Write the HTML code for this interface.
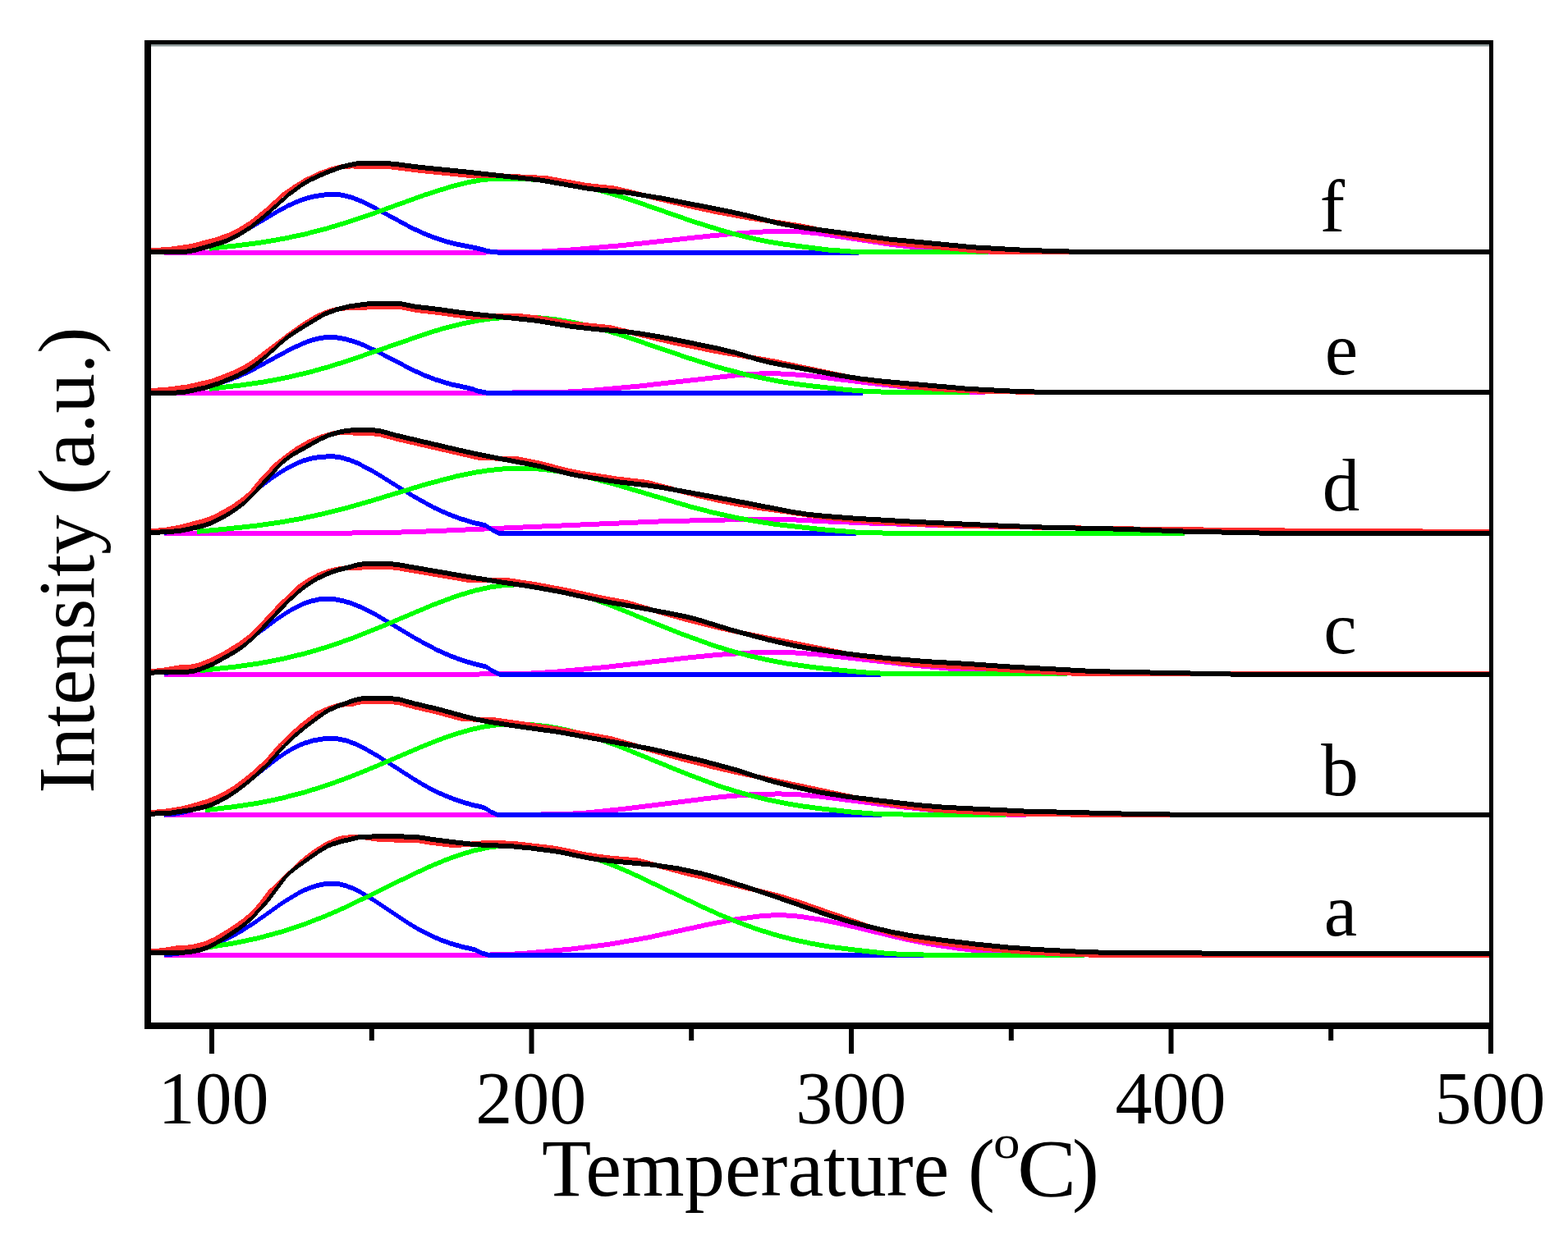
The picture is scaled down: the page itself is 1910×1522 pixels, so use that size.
<!DOCTYPE html>
<html><head><meta charset="utf-8"><title>TPD profiles</title>
<style>html,body{margin:0;padding:0;background:#fff;width:1910px;height:1522px;overflow:hidden}
svg{display:block} text{font-family:"Liberation Serif","Times New Roman",serif;fill:#000}</style>
</head><body>
<svg width="1910" height="1522" viewBox="0 0 1910 1522">
<rect width="1910" height="1522" fill="#fff"/>
<g shape-rendering="crispEdges">
<path fill="#ff00ff" d="M200.0,304.5 591.5,304.5 657.0,303.7 691.5,301.8 757.5,296.1 864.0,284.6 895.0,281.7 928.5,279.5 959.5,278.8 978.0,279.6 999.0,281.7 1083.0,294.5 1145.0,302.0 1175.5,304.0 1222.0,304.5 1222.0,310.5 1175.5,310.0 1145.0,308.0 1083.0,300.5 999.0,287.7 978.0,285.6 959.5,284.8 928.5,285.5 895.0,287.7 864.0,290.6 757.5,302.1 691.5,307.8 657.0,309.7 591.5,310.5 200.0,310.5Z"/>
<path fill="#0000ff" d="M200.0,304.4 216.0,303.9 228.0,302.4 250.5,297.2 265.0,292.9 279.0,287.5 293.0,280.8 307.0,273.1 341.5,252.7 352.0,247.2 361.5,242.9 373.0,238.7 384.0,236.0 395.5,234.4 408.0,233.9 415.0,234.5 422.5,236.0 430.5,238.4 439.5,242.0 455.5,249.8 501.0,274.4 515.5,281.2 529.5,286.7 542.0,290.9 554.5,294.3 585.0,300.4 594.0,303.0 601.0,304.1 606.0,304.5 1046.0,304.5 1046.0,310.5 606.0,310.5 601.0,310.1 594.0,309.0 585.0,306.4 554.5,300.3 542.0,296.9 529.5,292.7 515.5,287.2 501.0,280.4 455.5,255.8 439.5,248.0 430.5,244.4 422.5,242.0 415.0,240.5 408.0,239.9 395.5,240.4 384.0,242.0 373.0,244.7 361.5,248.9 352.0,253.2 341.5,258.7 307.0,279.1 293.0,286.8 279.0,293.5 265.0,298.9 250.5,303.2 228.0,308.4 216.0,309.9 200.0,310.4Z"/>
<path fill="#00ff00" d="M255.0,299.8 292.5,295.9 319.0,292.4 346.0,287.7 372.0,282.2 399.5,275.0 428.0,266.3 455.5,256.9 518.0,234.3 550.5,224.1 568.5,219.6 585.5,216.4 601.0,214.8 615.5,214.5 643.5,215.2 668.5,217.3 693.0,220.7 718.0,225.9 739.5,231.5 762.5,238.5 844.0,266.8 879.0,277.8 898.0,283.1 917.0,287.6 935.5,291.4 954.5,294.6 1008.0,301.4 1039.5,303.8 1078.0,304.4 1204.0,304.5 1204.0,310.5 1078.0,310.4 1039.5,309.8 1008.0,307.4 954.5,300.6 935.5,297.4 917.0,293.6 898.0,289.1 879.0,283.8 844.0,272.8 762.5,244.5 739.5,237.5 718.0,231.9 693.0,226.7 668.5,223.3 643.5,221.2 615.5,220.5 601.0,220.8 585.5,222.4 568.5,225.6 550.5,230.1 518.0,240.3 455.5,262.9 428.0,272.3 399.5,281.0 372.0,288.2 346.0,293.7 319.0,298.4 292.5,301.9 255.0,305.8Z"/>
<path fill="#ff2b2b" d="M179.5,302.6 207.5,300.7 232.5,297.2 262.0,289.4 277.5,284.1 291.0,277.4 305.0,268.6 323.5,253.6 344.5,234.5 358.5,224.8 371.0,217.2 387.0,209.4 404.0,203.2 415.5,200.3 428.5,199.4 439.0,199.9 459.5,199.6 477.0,200.5 511.5,204.8 577.5,211.5 606.0,211.1 665.5,214.1 714.5,222.9 749.5,226.7 835.5,247.1 870.0,254.7 910.5,262.2 975.5,272.4 1051.0,288.0 1087.5,293.0 1189.0,302.5 1202.0,303.4 1215.5,303.8 1286.5,304.4 1816.0,304.5 1816.0,310.5 1286.5,310.4 1215.5,309.8 1202.0,309.4 1189.0,308.5 1087.5,299.0 1051.0,294.0 975.5,278.4 910.5,268.2 870.0,260.7 835.5,253.1 749.5,232.7 714.5,228.9 665.5,220.1 606.0,217.1 577.5,217.5 511.5,210.8 477.0,206.5 459.5,205.6 439.0,205.9 428.5,205.4 415.5,206.3 404.0,209.2 387.0,215.4 371.0,223.2 358.5,230.8 344.5,240.5 323.5,259.6 305.0,274.6 291.0,283.4 277.5,290.1 262.0,295.4 232.5,303.2 207.5,306.7 179.5,308.6Z"/>
<path fill="#000" d="M179.5,304.5 214.0,304.3 230.0,303.4 238.0,301.7 259.5,295.8 276.0,290.4 290.5,283.4 305.5,273.9 323.0,259.7 352.5,233.5 366.5,223.1 378.0,216.2 396.5,207.7 411.0,202.2 420.5,199.2 435.5,196.2 453.5,195.5 466.0,195.8 481.0,196.9 510.0,200.7 575.5,207.3 659.0,216.6 714.5,226.4 729.5,228.4 763.5,231.7 808.0,238.9 889.5,255.0 910.5,259.7 946.5,268.7 976.0,274.1 1083.0,288.5 1185.5,298.3 1248.5,301.9 1331.5,304.4 1816.0,304.5 1816.0,310.5 1331.5,310.4 1248.5,307.9 1185.5,304.3 1083.0,294.5 976.0,280.1 946.5,274.7 910.5,265.7 889.5,261.0 808.0,244.9 763.5,237.7 729.5,234.4 714.5,232.4 659.0,222.6 575.5,213.3 510.0,206.7 481.0,202.9 466.0,201.8 453.5,201.5 435.5,202.2 420.5,205.2 411.0,208.2 396.5,213.7 378.0,222.2 366.5,229.1 352.5,239.5 323.0,265.7 305.5,279.9 290.5,289.4 276.0,296.4 259.5,301.8 238.0,307.7 230.0,309.4 214.0,310.3 179.5,310.5Z"/>
<path fill="#ff00ff" d="M200.0,475.5 623.5,475.5 686.5,474.8 720.0,472.9 777.0,467.7 895.5,454.4 919.0,452.7 939.0,452.1 960.5,452.8 985.5,454.8 1076.5,465.8 1143.5,472.6 1170.0,474.4 1200.0,475.2 1200.0,481.2 1170.0,480.4 1143.5,478.6 1076.5,471.8 985.5,460.8 960.5,458.8 939.0,458.1 919.0,458.7 895.5,460.4 777.0,473.7 720.0,478.9 686.5,480.8 623.5,481.5 200.0,481.5Z"/>
<path fill="#0000ff" d="M200.0,475.2 215.5,474.3 230.0,472.2 257.0,466.5 275.5,461.2 290.5,455.6 305.5,448.8 351.5,423.8 368.0,415.9 377.0,412.4 385.5,410.0 393.5,408.5 401.5,408.0 410.5,408.5 420.0,410.0 429.5,412.6 440.0,416.3 458.0,424.6 504.0,448.5 517.5,454.5 530.0,459.4 549.0,465.2 575.0,470.9 583.0,473.8 592.0,475.5 1051.0,475.5 1051.0,481.5 592.0,481.5 583.0,479.8 575.0,476.9 549.0,471.2 530.0,465.4 517.5,460.5 504.0,454.5 458.0,430.6 440.0,422.3 429.5,418.6 420.0,416.0 410.5,414.5 401.5,414.0 393.5,414.5 385.5,416.0 377.0,418.4 368.0,421.9 351.5,429.8 305.5,454.8 290.5,461.6 275.5,467.2 257.0,472.5 230.0,478.2 215.5,480.3 200.0,481.2Z"/>
<path fill="#00ff00" d="M255.0,470.8 292.5,466.6 320.0,462.7 348.0,457.4 375.5,450.9 399.5,444.3 424.5,436.4 521.5,402.9 542.5,396.6 561.5,391.8 580.5,387.9 598.5,385.3 616.5,383.8 634.5,383.4 655.0,384.1 675.5,386.1 696.5,389.5 718.5,394.4 737.5,399.5 758.0,405.8 837.5,432.9 873.5,444.2 912.5,454.4 951.0,462.1 971.5,465.2 994.0,468.0 1034.0,472.2 1057.5,474.0 1097.5,475.3 1181.0,475.5 1181.0,481.5 1097.5,481.3 1057.5,480.0 1034.0,478.2 994.0,474.0 971.5,471.2 951.0,468.1 912.5,460.4 873.5,450.2 837.5,438.9 758.0,411.8 737.5,405.5 718.5,400.4 696.5,395.5 675.5,392.1 655.0,390.1 634.5,389.4 616.5,389.8 598.5,391.3 580.5,393.9 561.5,397.8 542.5,402.6 521.5,408.9 424.5,442.4 399.5,450.3 375.5,456.9 348.0,463.4 320.0,468.7 292.5,472.6 255.0,476.8Z"/>
<path fill="#ff2b2b" d="M179.5,473.4 205.0,471.5 228.5,468.4 256.0,462.1 267.5,458.1 283.5,451.6 296.0,445.5 306.5,439.1 352.0,404.6 371.0,391.2 385.5,382.7 398.5,377.1 410.0,374.0 422.0,372.2 431.0,371.8 441.0,372.1 454.5,370.7 472.5,370.5 487.5,371.0 507.0,374.9 531.5,377.7 575.5,383.6 609.5,382.1 633.0,382.0 656.0,384.6 696.5,391.5 743.0,396.1 818.5,414.1 871.0,424.9 943.0,437.3 1039.5,457.6 1064.5,462.0 1088.5,465.5 1112.5,468.4 1137.5,470.7 1166.0,472.5 1197.0,473.8 1276.0,475.2 1816.0,475.5 1816.0,481.5 1276.0,481.2 1197.0,479.8 1166.0,478.5 1137.5,476.7 1112.5,474.4 1088.5,471.5 1064.5,468.0 1039.5,463.6 943.0,443.3 871.0,430.9 818.5,420.1 743.0,402.1 696.5,397.5 656.0,390.6 633.0,388.0 609.5,388.1 575.5,389.6 531.5,383.7 507.0,380.9 487.5,377.0 472.5,376.5 454.5,376.7 441.0,378.1 431.0,377.8 422.0,378.2 410.0,380.0 398.5,383.1 385.5,388.7 371.0,397.2 352.0,410.6 306.5,445.1 296.0,451.5 283.5,457.6 267.5,464.1 256.0,468.1 228.5,474.4 205.0,477.5 179.5,479.4Z"/>
<path fill="#000" d="M179.5,475.5 215.0,475.5 223.5,475.0 250.5,469.4 266.5,464.2 289.0,454.8 297.5,450.4 304.5,446.2 312.5,440.5 323.5,431.7 344.5,412.6 352.5,406.2 363.5,399.0 389.5,383.1 396.5,379.3 410.0,374.2 426.5,370.2 450.5,367.0 467.5,366.5 487.0,367.0 506.5,370.8 532.0,373.7 568.0,378.7 652.0,387.6 698.0,395.1 724.5,398.0 763.0,401.4 783.0,403.9 815.5,409.6 873.0,421.3 895.0,426.6 925.0,435.6 939.0,439.0 1022.0,454.5 1048.0,458.5 1073.5,461.5 1178.5,470.8 1239.0,474.0 1298.0,475.4 1816.0,475.5 1816.0,481.5 1298.0,481.4 1239.0,480.0 1178.5,476.8 1073.5,467.5 1048.0,464.5 1022.0,460.5 939.0,445.0 925.0,441.6 895.0,432.6 873.0,427.3 815.5,415.6 783.0,409.9 763.0,407.4 724.5,404.0 698.0,401.1 652.0,393.6 568.0,384.7 532.0,379.7 506.5,376.8 487.0,373.0 467.5,372.5 450.5,373.0 426.5,376.2 410.0,380.2 396.5,385.3 389.5,389.1 363.5,405.0 352.5,412.2 344.5,418.6 323.5,437.7 312.5,446.5 304.5,452.2 297.5,456.4 289.0,460.8 266.5,470.2 250.5,475.4 223.5,481.0 215.0,481.5 179.5,481.5Z"/>
<path fill="#ff00ff" d="M200.0,647.0 394.5,646.9 474.0,646.0 525.0,644.3 798.5,632.6 873.5,630.6 947.5,629.9 958.5,629.9 1001.5,632.2 1063.5,634.7 1183.0,638.1 1383.0,641.9 1582.0,644.7 1582.0,650.7 1383.0,647.9 1183.0,644.1 1063.5,640.7 1001.5,638.2 958.5,635.9 947.5,635.9 873.5,636.6 798.5,638.6 525.0,650.3 474.0,652.0 394.5,652.9 200.0,653.0Z"/>
<path fill="#0000ff" d="M200.0,646.1 213.5,643.8 237.5,637.6 251.0,632.8 264.5,626.5 276.0,619.9 288.5,611.6 326.0,583.4 338.0,574.9 349.5,567.7 360.0,562.3 370.5,558.1 381.0,555.3 392.0,553.7 404.0,553.2 411.0,553.8 419.0,555.4 427.5,558.1 436.5,561.9 455.0,571.6 503.5,601.7 528.5,615.5 544.0,622.6 559.5,628.6 575.5,633.6 592.0,637.5 600.0,643.1 608.0,647.0 1043.0,647.0 1043.0,653.0 608.0,653.0 600.0,649.1 592.0,643.5 575.5,639.6 559.5,634.6 544.0,628.6 528.5,621.5 503.5,607.7 455.0,577.6 436.5,567.9 427.5,564.1 419.0,561.4 411.0,559.8 404.0,559.2 392.0,559.7 381.0,561.3 370.5,564.1 360.0,568.3 349.5,573.7 338.0,580.9 326.0,589.4 288.5,617.6 276.0,625.9 264.5,632.5 251.0,638.8 237.5,643.6 213.5,649.8 200.0,652.1Z"/>
<path fill="#00ff00" d="M240.0,644.9 272.5,641.9 314.0,637.4 340.5,633.6 366.0,629.1 394.0,623.1 423.5,615.6 452.0,607.4 520.0,586.8 557.0,577.1 578.0,572.8 597.5,569.9 616.5,568.1 634.5,567.5 652.5,568.2 671.0,570.0 690.5,573.0 711.0,577.2 747.5,586.7 842.0,614.7 869.5,621.8 896.0,627.7 920.0,632.1 944.0,635.8 1001.0,642.2 1042.5,645.5 1085.0,646.8 1443.0,647.0 1443.0,653.0 1085.0,652.8 1042.5,651.5 1001.0,648.2 944.0,641.8 920.0,638.1 896.0,633.7 869.5,627.8 842.0,620.7 747.5,592.7 711.0,583.2 690.5,579.0 671.0,576.0 652.5,574.2 634.5,573.5 616.5,574.1 597.5,575.9 578.0,578.8 557.0,583.1 520.0,592.8 452.0,613.4 423.5,621.6 394.0,629.1 366.0,635.1 340.5,639.6 314.0,643.4 272.5,647.9 240.0,650.9Z"/>
<path fill="#ff2b2b" d="M179.5,644.9 201.5,642.7 220.0,639.4 250.0,631.3 257.0,628.7 264.5,625.2 283.0,614.7 298.0,603.8 304.5,597.8 315.5,584.4 333.5,565.1 348.0,553.4 360.5,544.5 375.5,535.9 390.5,529.7 407.0,525.0 413.5,524.1 420.5,523.8 435.5,524.9 454.0,525.3 462.5,526.2 484.5,532.1 583.5,554.9 631.0,556.4 660.5,562.3 690.0,570.1 706.0,573.4 752.0,580.6 788.0,584.8 851.5,601.3 877.5,607.2 902.5,612.1 927.0,616.3 958.5,620.6 987.0,625.2 1010.5,628.1 1036.0,630.6 1078.5,633.6 1129.0,636.1 1191.5,638.1 1272.5,639.8 1392.5,641.7 1547.0,643.4 1816.0,645.0 1816.0,651.0 1547.0,649.4 1392.5,647.7 1272.5,645.8 1191.5,644.1 1129.0,642.1 1078.5,639.6 1036.0,636.6 1010.5,634.1 987.0,631.2 958.5,626.6 927.0,622.3 902.5,618.1 877.5,613.2 851.5,607.3 788.0,590.8 752.0,586.6 706.0,579.4 690.0,576.1 660.5,568.3 631.0,562.4 583.5,560.9 484.5,538.1 462.5,532.2 454.0,531.3 435.5,530.9 420.5,529.8 413.5,530.1 407.0,531.0 390.5,535.7 375.5,541.9 360.5,550.5 348.0,559.4 334.0,570.8 320.0,586.1 305.5,603.2 298.0,609.8 283.0,620.7 264.5,631.2 257.0,634.7 250.0,637.3 220.0,645.4 201.5,648.7 179.5,650.9Z"/>
<path fill="#000" d="M179.5,646.0 205.0,645.2 223.0,643.3 247.5,637.7 255.0,635.2 262.5,631.9 272.5,626.7 282.5,620.8 291.0,614.9 299.0,608.6 305.0,603.0 321.0,584.8 338.5,566.0 348.0,557.1 357.0,550.7 390.5,531.9 401.0,527.2 411.0,524.2 420.5,522.2 429.5,521.2 440.5,520.8 455.5,521.3 464.0,522.4 483.5,527.8 566.5,547.2 595.0,553.2 656.0,564.8 690.0,573.6 704.0,576.6 751.0,584.0 787.0,588.2 803.0,590.5 886.5,605.6 966.0,621.0 983.5,623.7 1003.5,625.8 1041.0,628.7 1114.5,632.9 1220.5,637.7 1277.0,639.8 1370.0,641.8 1441.5,644.5 1552.5,646.9 1816.0,647.0 1816.0,653.0 1552.5,652.9 1441.5,650.5 1370.0,647.8 1277.0,645.8 1220.5,643.7 1114.5,638.9 1041.0,634.7 1003.5,631.8 983.5,629.7 966.0,627.0 886.5,611.6 803.0,596.5 787.0,594.2 751.0,590.0 704.0,582.6 690.0,579.6 656.0,570.8 595.0,559.2 566.5,553.2 483.5,533.8 464.0,528.4 455.5,527.3 440.5,526.8 429.5,527.2 420.5,528.2 411.0,530.2 401.0,533.2 390.5,537.9 357.0,556.7 349.0,562.3 341.5,569.1 310.5,603.5 299.0,614.6 291.0,620.9 282.5,626.8 272.5,632.7 262.5,637.9 255.0,641.2 247.5,643.7 223.0,649.3 205.0,651.2 179.5,652.0Z"/>
<path fill="#ff00ff" d="M200.0,818.5 583.5,818.5 643.5,817.7 675.5,815.8 736.5,810.1 839.0,798.4 872.5,795.0 910.0,792.6 947.0,791.8 971.5,792.6 1000.5,794.8 1117.0,808.1 1201.5,815.6 1243.0,817.8 1300.0,818.5 1300.0,824.5 1243.0,823.8 1201.5,821.6 1117.0,814.1 1000.5,800.8 971.5,798.6 947.0,797.8 910.0,798.6 872.5,801.0 839.0,804.4 736.5,816.1 675.5,821.8 643.5,823.7 583.5,824.5 200.0,824.5Z"/>
<path fill="#0000ff" d="M200.0,817.4 213.5,815.2 237.5,809.6 251.0,805.4 264.0,800.1 277.5,793.2 292.0,784.4 306.0,774.7 340.0,749.6 349.5,743.3 358.5,738.0 369.0,733.0 379.0,729.5 389.0,727.4 399.0,726.8 408.5,727.4 418.0,729.2 428.0,732.2 438.5,736.3 459.0,746.7 507.5,775.8 532.0,788.9 547.0,795.6 561.5,801.1 576.5,805.7 592.0,809.4 600.0,814.8 608.0,818.5 1073.0,818.5 1073.0,824.5 608.0,824.5 600.0,820.8 592.0,815.4 576.5,811.7 561.5,807.1 547.0,801.6 532.0,794.9 507.5,781.8 459.0,752.7 438.5,742.3 428.0,738.2 418.0,735.2 408.5,733.4 399.0,732.8 389.0,733.4 379.0,735.5 369.0,739.0 358.5,744.0 349.5,749.3 340.0,755.6 306.0,780.7 292.0,790.4 277.5,799.2 264.0,806.1 251.0,811.4 237.5,815.6 213.5,821.2 200.0,823.4Z"/>
<path fill="#00ff00" d="M244.0,814.1 285.5,809.7 315.0,805.5 344.5,799.9 373.5,792.8 402.0,784.3 432.0,773.7 461.0,762.1 526.5,734.5 544.5,727.6 560.5,722.0 579.5,716.4 597.0,712.5 614.0,710.1 629.5,709.3 647.5,710.1 665.5,712.3 684.5,716.0 704.0,721.1 722.0,726.8 742.0,734.0 827.0,768.3 868.0,783.2 891.0,790.3 914.0,796.5 937.0,801.6 960.5,805.9 988.0,809.8 1028.0,814.2 1053.0,816.4 1075.5,817.7 1125.0,818.4 1300.0,818.5 1300.0,824.5 1125.0,824.4 1075.5,823.7 1053.0,822.4 1028.0,820.2 988.0,815.8 960.5,811.9 937.0,807.6 914.0,802.5 891.0,796.3 868.0,789.2 827.0,774.3 742.0,740.0 722.0,732.8 704.0,727.1 684.5,722.0 665.5,718.3 647.5,716.1 629.5,715.3 614.0,716.1 597.0,718.5 579.5,722.4 560.5,728.0 544.5,733.6 526.5,740.5 461.0,768.1 432.0,779.7 402.0,790.3 373.5,798.8 344.5,805.9 315.0,811.5 285.5,815.7 244.0,820.1Z"/>
<path fill="#ff2b2b" d="M179.5,815.7 201.0,813.4 220.0,810.1 231.0,809.8 237.5,808.8 245.0,806.5 255.5,802.3 273.5,793.0 291.5,782.0 304.5,772.0 310.0,766.9 339.5,735.2 364.0,712.0 375.5,704.3 387.0,698.2 400.5,693.0 414.0,690.0 424.5,689.0 437.0,688.9 446.0,688.0 457.0,687.7 473.5,688.0 483.0,688.9 570.5,703.9 614.5,703.5 651.0,709.0 689.5,716.1 733.5,725.7 764.0,731.3 809.5,744.6 840.5,753.2 872.0,761.1 905.0,768.5 1035.5,794.3 1070.0,800.3 1101.5,805.0 1132.0,807.4 1183.0,810.2 1226.0,813.3 1311.0,817.8 1429.0,818.4 1816.0,818.5 1816.0,824.5 1429.0,824.4 1311.0,823.8 1226.0,819.3 1183.0,816.2 1132.0,813.4 1101.5,811.0 1070.0,806.3 1035.5,800.3 905.0,774.5 872.0,767.1 840.5,759.2 809.5,750.6 764.0,737.3 733.5,731.7 689.5,722.1 651.0,715.0 614.5,709.5 570.5,709.9 483.0,694.9 473.5,694.0 457.0,693.7 446.0,694.0 437.0,694.9 424.5,695.0 414.0,696.0 400.5,699.0 387.0,704.2 375.5,710.3 364.0,718.0 343.0,737.8 311.5,771.5 304.5,778.0 291.5,788.0 273.5,799.0 255.5,808.3 245.0,812.5 237.5,814.8 231.0,815.8 220.0,816.1 201.0,819.4 179.5,821.7Z"/>
<path fill="#000" d="M179.5,817.0 196.5,816.0 226.5,815.7 233.5,815.3 243.5,812.7 259.0,806.4 284.5,792.2 294.0,786.0 301.5,780.3 310.5,772.1 341.0,739.6 353.0,727.8 367.5,714.8 379.5,706.2 387.5,701.5 395.5,697.6 403.5,694.4 412.5,691.5 437.0,685.0 445.5,684.0 456.5,683.7 474.5,684.0 485.0,685.2 566.0,699.2 614.5,707.0 645.5,711.5 684.0,718.5 737.5,730.1 784.5,738.5 835.5,748.3 850.0,752.1 893.0,765.3 936.0,776.7 965.5,783.4 986.0,787.2 1013.5,791.2 1047.0,795.5 1080.5,799.1 1126.5,803.0 1183.0,806.2 1226.0,809.3 1322.5,814.5 1347.0,815.4 1499.0,818.5 1816.0,818.5 1816.0,824.5 1499.0,824.5 1347.0,821.4 1322.5,820.5 1226.0,815.3 1183.0,812.2 1126.5,809.0 1080.5,805.1 1047.0,801.5 1013.5,797.2 986.0,793.2 965.5,789.4 936.0,782.7 893.0,771.3 850.0,758.1 835.5,754.3 784.5,744.5 737.5,736.1 684.0,724.5 645.5,717.5 614.5,713.0 566.0,705.2 485.0,691.2 474.5,690.0 456.5,689.7 445.5,690.0 437.0,691.0 412.5,697.5 403.5,700.4 395.5,703.6 387.5,707.5 379.5,712.2 367.5,720.8 353.0,733.8 314.5,774.1 301.5,786.3 294.0,792.0 284.5,798.2 259.0,812.4 243.5,818.7 233.5,821.3 226.5,821.7 196.5,822.0 179.5,823.0Z"/>
<path fill="#ff00ff" d="M200.0,989.8 632.0,989.8 686.5,989.2 716.0,987.4 765.0,982.2 857.5,970.5 885.5,967.4 917.5,965.1 948.5,964.4 971.0,965.1 996.5,967.3 1095.0,979.9 1167.0,987.3 1201.0,989.2 1250.0,989.8 1250.0,995.8 1201.0,995.2 1167.0,993.3 1095.0,985.9 996.5,973.3 971.0,971.1 948.5,970.4 917.5,971.1 885.5,973.4 857.5,976.5 765.0,988.2 716.0,993.4 686.5,995.2 632.0,995.8 200.0,995.8Z"/>
<path fill="#0000ff" d="M200.0,989.6 213.0,988.7 224.5,986.5 246.5,980.5 261.5,974.7 275.0,967.8 288.5,959.2 302.0,949.4 337.0,921.9 347.5,914.6 357.5,908.7 369.0,903.3 380.5,899.6 392.5,897.5 405.5,896.9 413.5,897.6 422.5,899.7 432.0,903.2 442.0,907.8 460.0,918.1 508.0,948.8 522.0,956.8 535.5,963.5 548.5,969.1 562.0,973.9 575.5,977.9 590.0,981.2 598.0,986.3 606.0,989.8 1074.0,989.8 1074.0,995.8 606.0,995.8 598.0,992.3 590.0,987.2 575.5,983.9 562.0,979.9 548.5,975.1 535.5,969.5 522.0,962.8 508.0,954.8 460.0,924.1 442.0,913.8 432.0,909.2 422.5,905.7 413.5,903.6 405.5,902.9 392.5,903.5 380.5,905.6 369.0,909.3 357.5,914.7 347.5,920.6 337.0,927.9 302.0,955.4 288.5,965.2 275.0,973.8 261.5,980.7 246.5,986.5 224.5,992.5 213.0,994.7 200.0,995.6Z"/>
<path fill="#00ff00" d="M250.0,984.2 284.5,980.2 312.5,976.0 340.0,970.4 367.0,963.6 395.0,955.0 424.0,944.6 452.0,933.3 518.0,905.1 536.5,897.9 553.0,892.1 573.0,886.2 591.5,882.2 609.0,879.9 625.5,879.3 647.5,880.1 669.0,882.5 690.5,886.6 713.0,892.4 732.5,898.6 754.0,906.4 837.0,940.3 874.5,954.3 895.0,960.9 915.5,966.7 936.0,971.7 956.5,975.9 978.0,979.5 1001.5,982.6 1040.0,986.8 1064.5,988.6 1107.0,989.7 1225.0,989.8 1225.0,995.8 1107.0,995.7 1064.5,994.6 1040.0,992.8 1001.5,988.6 978.0,985.5 956.5,981.9 936.0,977.7 915.5,972.7 895.0,966.9 874.5,960.3 837.0,946.3 754.0,912.4 732.5,904.6 713.0,898.4 690.5,892.6 669.0,888.5 647.5,886.1 625.5,885.3 609.0,885.9 591.5,888.2 573.0,892.2 553.0,898.1 536.5,903.9 518.0,911.1 452.0,939.3 424.0,950.6 395.0,961.0 367.0,969.6 340.0,976.4 312.5,982.0 284.5,986.2 250.0,990.2Z"/>
<path fill="#ff2b2b" d="M179.5,987.5 203.5,985.4 223.0,982.1 232.5,979.7 252.5,973.7 265.0,968.6 275.5,963.1 284.5,957.5 295.5,949.5 307.0,940.2 324.0,924.6 339.0,907.0 353.5,892.9 366.5,881.5 384.5,867.4 399.0,860.9 407.0,858.1 413.0,856.5 421.0,855.2 429.5,854.8 435.5,853.1 440.5,852.3 460.0,851.5 476.5,852.1 486.5,853.4 505.5,858.5 534.5,865.3 563.5,873.3 600.0,873.9 678.0,885.2 745.0,897.3 832.0,922.3 868.0,931.4 897.0,938.1 1053.5,971.5 1093.0,978.2 1131.5,983.0 1153.0,984.9 1225.5,988.5 1276.0,989.4 1380.5,989.8 1816.0,989.8 1816.0,995.8 1380.5,995.8 1276.0,995.4 1225.5,994.5 1153.0,990.9 1131.5,989.0 1093.0,984.2 1053.5,977.5 897.0,944.1 868.0,937.4 832.0,928.3 745.0,903.3 678.0,891.2 600.0,879.9 563.5,879.3 534.5,871.3 505.5,864.5 486.5,859.4 476.5,858.1 460.0,857.5 440.5,858.3 435.5,859.1 429.5,860.8 421.0,861.2 413.0,862.5 407.0,864.1 399.0,866.9 384.5,873.4 366.5,887.5 353.5,898.9 344.5,907.5 325.0,929.8 307.0,946.2 295.5,955.5 284.5,963.5 275.5,969.1 265.0,974.6 252.5,979.7 232.5,985.7 223.0,988.1 203.5,991.4 179.5,993.5Z"/>
<path fill="#000" d="M179.5,988.8 205.5,988.0 234.0,983.7 252.0,979.6 259.0,977.0 267.0,973.3 277.0,967.9 285.0,962.8 295.5,955.2 306.5,946.3 324.5,929.8 343.5,908.5 355.5,896.7 372.5,882.4 394.0,866.4 401.0,862.2 409.5,858.2 433.0,849.8 442.0,848.2 460.0,847.5 477.0,848.2 487.0,849.5 505.5,854.5 535.0,861.5 573.5,872.0 591.5,875.9 620.5,880.6 681.5,889.2 794.5,909.9 855.5,924.1 898.5,935.7 929.5,945.8 944.0,950.0 967.5,955.8 995.0,961.8 1029.0,967.4 1117.0,978.0 1152.0,980.9 1247.5,985.5 1393.5,989.2 1454.5,989.8 1816.0,989.8 1816.0,995.8 1454.5,995.8 1393.5,995.2 1247.5,991.5 1152.0,986.9 1117.0,984.0 1029.0,973.4 995.0,967.8 967.5,961.8 944.0,956.0 929.5,951.8 898.5,941.7 855.5,930.1 794.5,915.9 681.5,895.2 620.5,886.6 591.5,881.9 573.5,878.0 535.0,867.5 505.5,860.5 487.0,855.5 477.0,854.2 460.0,853.5 442.0,854.2 433.0,855.8 409.5,864.2 401.0,868.2 394.0,872.4 372.5,888.4 355.5,902.7 348.5,909.5 328.5,931.8 317.0,943.0 306.5,952.3 295.5,961.2 285.0,968.8 277.0,973.9 267.0,979.3 259.0,983.0 252.0,985.6 234.0,989.7 205.5,994.0 179.5,994.8Z"/>
<path fill="#ff00ff" d="M200.0,1161.0 566.5,1160.9 606.0,1160.4 635.0,1159.2 699.0,1153.2 741.0,1147.9 787.5,1139.8 864.5,1123.2 892.5,1117.9 922.5,1113.7 936.0,1112.6 948.0,1112.2 960.5,1112.6 973.5,1113.7 1002.5,1118.1 1028.5,1123.6 1099.5,1140.7 1121.0,1145.2 1142.0,1148.9 1166.5,1152.5 1202.0,1156.7 1222.5,1158.8 1240.0,1160.0 1240.0,1166.0 1222.5,1164.8 1202.0,1162.7 1166.5,1158.5 1142.0,1154.9 1121.0,1151.2 1099.5,1146.7 1028.5,1129.6 1002.5,1124.1 973.5,1119.7 960.5,1118.6 948.0,1118.2 936.0,1118.6 922.5,1119.7 892.5,1123.9 864.5,1129.2 787.5,1145.8 741.0,1153.9 699.0,1159.2 635.0,1165.2 606.0,1166.4 566.5,1166.9 200.0,1167.0Z"/>
<path fill="#0000ff" d="M200.0,1160.5 216.5,1158.8 237.5,1154.3 254.0,1149.9 269.0,1144.4 283.5,1137.5 298.0,1129.1 312.5,1119.6 347.0,1095.2 365.5,1084.2 376.0,1079.4 386.0,1076.1 396.0,1074.1 406.0,1073.5 413.0,1074.2 421.0,1076.2 429.5,1079.4 438.5,1083.8 454.5,1093.3 499.5,1123.3 513.5,1131.4 526.5,1137.9 537.0,1142.4 548.0,1146.4 562.0,1150.5 578.0,1154.1 587.0,1158.4 596.0,1161.0 1181.0,1161.0 1181.0,1167.0 596.0,1167.0 587.0,1164.4 578.0,1160.1 562.0,1156.5 548.0,1152.4 537.0,1148.4 526.5,1143.9 513.5,1137.4 499.5,1129.3 454.5,1099.3 438.5,1089.8 429.5,1085.4 421.0,1082.2 413.0,1080.2 406.0,1079.5 396.0,1080.1 386.0,1082.1 376.0,1085.4 365.5,1090.2 347.0,1101.2 312.5,1125.6 298.0,1135.1 283.5,1143.5 269.0,1150.4 254.0,1155.9 237.5,1160.3 216.5,1164.8 200.0,1166.5Z"/>
<path fill="#00ff00" d="M255.0,1151.1 286.5,1146.1 316.5,1139.7 345.5,1131.7 374.0,1122.0 398.0,1112.6 424.0,1101.1 498.5,1064.6 521.0,1054.1 541.5,1045.4 560.0,1038.7 578.5,1033.2 596.0,1029.5 613.0,1027.4 629.5,1026.9 653.5,1028.0 676.5,1030.9 699.5,1035.8 723.5,1042.8 744.5,1050.5 767.5,1060.2 857.0,1102.8 878.0,1112.2 897.5,1120.2 920.0,1128.5 942.5,1135.7 965.0,1141.7 988.0,1146.7 1011.5,1150.8 1038.0,1154.2 1075.5,1158.4 1101.5,1160.1 1148.5,1160.9 1321.0,1161.0 1321.0,1167.0 1148.5,1166.9 1101.5,1166.1 1075.5,1164.4 1038.0,1160.2 1011.5,1156.8 988.0,1152.7 965.0,1147.7 942.5,1141.7 920.0,1134.5 897.5,1126.2 878.0,1118.2 857.0,1108.8 767.5,1066.2 744.5,1056.5 723.5,1048.8 699.5,1041.8 676.5,1036.9 653.5,1034.0 629.5,1032.9 613.0,1033.4 596.0,1035.5 578.5,1039.2 560.0,1044.7 541.5,1051.4 521.0,1060.1 498.5,1070.6 424.0,1107.1 398.0,1118.6 374.0,1128.0 345.5,1137.7 316.5,1145.7 286.5,1152.1 255.0,1157.1Z"/>
<path fill="#ff2b2b" d="M179.5,1157.0 198.5,1155.0 215.5,1152.2 226.5,1151.9 235.0,1150.7 249.5,1147.2 261.0,1141.8 272.5,1135.1 286.0,1126.4 295.0,1120.0 302.5,1113.8 308.0,1108.7 317.5,1097.5 328.5,1082.8 330.0,1082.3 361.5,1051.8 371.0,1043.6 380.0,1036.7 394.0,1027.6 408.0,1020.9 414.0,1019.0 420.0,1017.8 433.0,1016.8 446.5,1017.6 465.0,1020.4 506.5,1020.7 525.0,1023.8 553.0,1027.3 597.0,1023.6 627.0,1025.0 677.5,1030.9 712.5,1038.2 728.0,1040.7 746.0,1042.8 778.0,1045.6 837.0,1061.6 855.0,1065.5 875.0,1071.0 926.5,1083.0 950.0,1089.1 976.0,1097.2 1061.0,1126.9 1083.5,1133.9 1105.0,1139.8 1112.5,1141.6 1136.0,1145.1 1198.0,1152.6 1252.5,1157.4 1307.5,1160.4 1410.0,1161.0 1816.0,1161.0 1816.0,1167.0 1410.0,1167.0 1307.5,1166.4 1252.5,1163.4 1198.0,1158.6 1136.0,1151.1 1112.5,1147.6 1105.0,1145.8 1083.5,1139.9 1061.0,1132.9 976.0,1103.2 950.0,1095.1 926.5,1089.0 875.0,1077.0 855.0,1071.5 837.0,1067.6 778.0,1051.6 746.0,1048.8 728.0,1046.7 712.5,1044.2 677.5,1036.9 627.0,1031.0 597.0,1029.6 553.0,1033.3 525.0,1029.8 506.5,1026.7 465.0,1026.4 446.5,1023.6 433.0,1022.8 420.0,1023.8 414.0,1025.0 408.0,1026.9 394.0,1033.6 380.0,1042.7 370.0,1050.4 359.5,1059.6 330.0,1088.3 327.5,1092.6 318.0,1103.9 309.5,1113.4 302.5,1119.8 295.0,1126.0 286.0,1132.4 272.5,1141.1 261.0,1147.8 249.5,1153.2 235.0,1156.7 226.5,1157.9 215.5,1158.2 198.5,1161.0 179.5,1163.0Z"/>
<path fill="#000" d="M179.5,1158.0 221.5,1157.8 232.5,1156.8 243.5,1154.6 251.0,1152.3 258.0,1149.1 268.5,1143.2 292.0,1127.9 300.0,1121.7 307.5,1114.8 324.5,1095.7 343.5,1070.2 354.5,1059.1 363.0,1052.4 387.5,1035.1 394.0,1030.9 399.5,1027.9 406.0,1025.3 414.0,1022.8 436.5,1017.4 452.5,1016.5 484.0,1016.4 506.5,1016.7 528.0,1020.2 569.5,1025.2 588.5,1026.7 622.5,1028.2 647.5,1030.6 680.5,1034.9 712.0,1041.6 727.0,1044.1 745.0,1046.2 795.0,1050.8 826.0,1055.4 854.0,1061.3 877.5,1067.8 930.0,1084.7 1011.0,1112.9 1031.5,1119.2 1055.5,1125.5 1085.0,1132.5 1110.0,1137.2 1150.5,1143.0 1193.5,1148.1 1228.5,1151.5 1262.0,1154.0 1317.5,1156.9 1348.0,1157.8 1464.0,1158.5 1816.0,1158.5 1816.0,1164.5 1464.0,1164.5 1348.0,1163.8 1317.5,1162.9 1262.0,1160.0 1228.5,1157.5 1193.5,1154.1 1150.5,1149.0 1110.0,1143.2 1085.0,1138.5 1055.5,1131.5 1031.5,1125.2 1011.0,1118.9 930.0,1090.7 877.5,1073.8 854.0,1067.3 826.0,1061.4 795.0,1056.8 745.0,1052.2 727.0,1050.1 712.0,1047.6 680.5,1040.9 647.5,1036.6 622.5,1034.2 588.5,1032.7 569.5,1031.2 528.0,1026.2 506.5,1022.7 484.0,1022.4 452.5,1022.5 436.5,1023.4 414.0,1028.8 406.0,1031.3 399.5,1033.9 394.0,1036.9 387.5,1041.1 363.0,1058.4 354.5,1065.1 351.0,1068.4 347.0,1073.2 328.0,1098.8 310.0,1118.4 301.5,1126.4 293.5,1132.8 283.0,1140.1 268.5,1149.2 258.0,1155.1 251.0,1158.3 243.5,1160.6 232.5,1162.8 221.5,1163.8 179.5,1164.0Z"/>
</g>
<rect x="176" y="49" width="1643" height="5" fill="#000"/>
<rect x="183" y="54" width="1631" height="2.5" fill="#8a9696"/>
<rect x="176" y="49" width="8" height="1205" fill="#000"/>
<rect x="1814" y="49" width="5" height="1235" fill="#000"/>
<rect x="176" y="1246" width="1643" height="8" fill="#000"/>
<rect x="255.0" y="1250" width="6" height="34" fill="#000"/>
<rect x="644.5" y="1250" width="6" height="34" fill="#000"/>
<rect x="1034.0" y="1250" width="6" height="34" fill="#000"/>
<rect x="1423.5" y="1250" width="6" height="34" fill="#000"/>
<rect x="1813.0" y="1250" width="6" height="34" fill="#000"/>
<rect x="449.8" y="1250" width="6" height="18" fill="#000"/>
<rect x="839.2" y="1250" width="6" height="18" fill="#000"/>
<rect x="1228.8" y="1250" width="6" height="18" fill="#000"/>
<rect x="1618.2" y="1250" width="6" height="18" fill="#000"/>
<text x="259.9" y="1369" font-size="90" text-anchor="middle">100</text>
<text x="646.8" y="1369" font-size="90" text-anchor="middle">200</text>
<text x="1036.8" y="1369" font-size="90" text-anchor="middle">300</text>
<text x="1426.0" y="1369" font-size="90" text-anchor="middle">400</text>
<text x="1815.1" y="1369" font-size="90" text-anchor="middle">500</text>
<text x="660.0" y="1457" font-size="98.5">Temperature</text>
<text x="1179.0" y="1457" font-size="98.5">(</text>
<text transform="translate(1210.0,1410.5) scale(1,0.89)" font-size="65">o</text>
<text transform="translate(1239.0,1457) scale(1.1,1)" font-size="98.5">C</text>
<text x="1306.0" y="1457" font-size="98.5">)</text>
<text transform="translate(114,682.6) rotate(-90)" font-size="97" text-anchor="middle">Intensity (a.u.)</text>
<text x="1623" y="282" font-size="91" text-anchor="middle">f</text>
<text x="1634" y="456" font-size="91" text-anchor="middle">e</text>
<text x="1633.5" y="622" font-size="91" text-anchor="middle">d</text>
<text x="1632.5" y="796" font-size="91" text-anchor="middle">c</text>
<text x="1632" y="969" font-size="91" text-anchor="middle">b</text>
<text x="1633" y="1139.5" font-size="91" text-anchor="middle">a</text>
</svg>
</body></html>
